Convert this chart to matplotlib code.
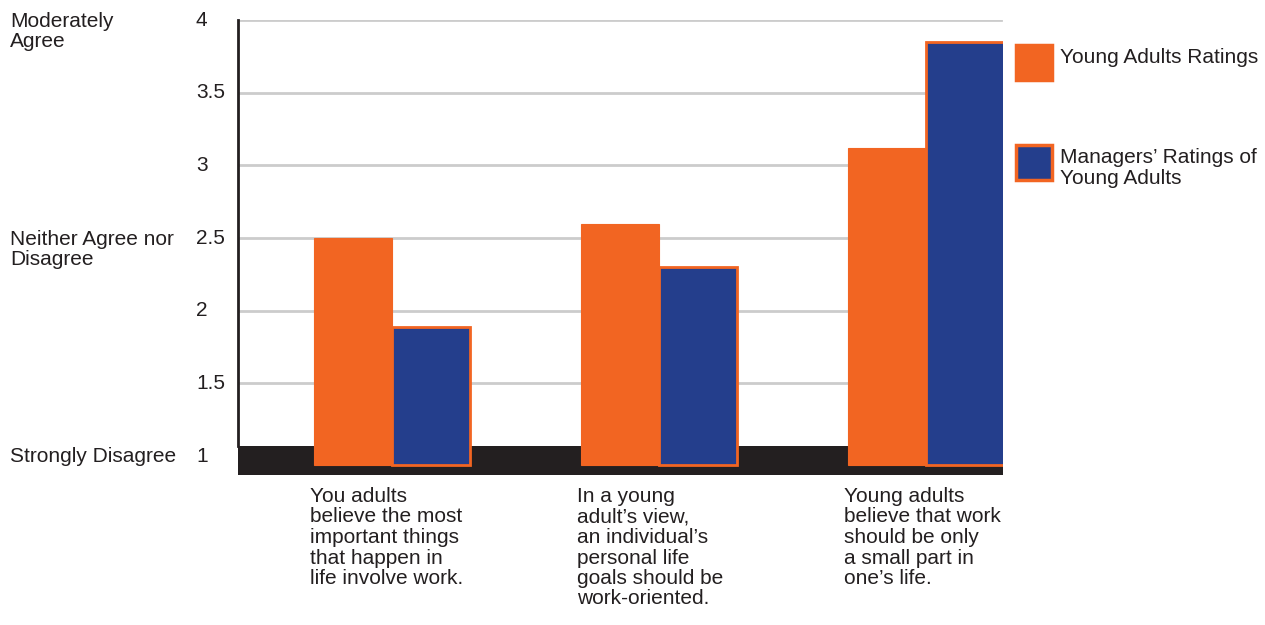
import numpy as np
import matplotlib.pyplot as plt
from matplotlib.patches import Rectangle
from matplotlib.transforms import blended_transform_factory

plt.rcParams["font.family"] = ["Liberation Sans", "DejaVu Sans"]

statements = [
    "You adults\nbelieve the most\nimportant things\nthat happen in\nlife involve work.",
    "In a young\nadult\u2019s view,\nan individual\u2019s\npersonal life\ngoals should be\nwork-oriented.",
    "Young adults\nbelieve that work\nshould be only\na small part in\none\u2019s life.",
]
young_adults = [2.5, 2.6, 3.12]
managers = [1.89, 2.3, 3.85]
yticks = [1, 1.5, 2, 2.5, 3, 3.5, 4]
scale_labels = {4: "Moderately\nAgree", 2.5: "Neither Agree nor\nDisagree", 1: "Strongly Disagree"}
series_names = ["Young Adults Ratings", "Managers\u2019 Ratings of\nYoung Adults"]

ORANGE = "#f26522"
BLUE = "#243e8c"
BAND = "#231f20"
FS = 15
LS = 1.1

W, H = 1265, 625
fig = plt.figure(figsize=(W / 100, H / 100), dpi=100)
ax = fig.add_axes([238 / W, 1 - 475 / H, (1003 - 238) / W, (475 - 20) / H])

ymin, ymax = 0.87, 4.0
bar_base = 0.94
w = 0.292
x = np.arange(len(statements))

ax.set_xlim(-0.577, 2.288)
ax.set_ylim(ymin, ymax)

# gridlines, dark floor band under the scale
for t in yticks[1:]:
    ax.axhline(t, xmin=0, xmax=0.997, color="#cccccc", lw=2, zorder=0)
ax.add_patch(Rectangle((-0.577, ymin), 2.865, 1.07 - ymin, color=BAND, zorder=1, lw=0))

ax.bar(x - w / 2, np.array(young_adults) - bar_base, w, bottom=bar_base,
       color=ORANGE, edgecolor=ORANGE, lw=0.8, zorder=2)
ax.bar(x + w / 2, np.array(managers) - bar_base, w, bottom=bar_base,
       color=BLUE, edgecolor=ORANGE, lw=2, zorder=2)

for s in ["top", "right", "bottom"]:
    ax.spines[s].set_visible(False)
ax.spines["left"].set_linewidth(2)
ax.spines["left"].set_color(BAND)
ax.spines["left"].set_bounds(1.07, ymax)
ax.set_xticks([])
ax.set_yticks([])

# numeric scale and its verbal anchors
ytr = blended_transform_factory(fig.transFigure, ax.transData)
for t in yticks:
    ax.text(196 / W, t, f"{t:g}", transform=ytr,
            ha="left", va="center", fontsize=FS, color=BAND)
for t, lab in scale_labels.items():
    yy = 3.92 if t == 4 else (2.42 if t == 2.5 else t)
    ax.text(10 / W, yy, lab, transform=ytr, ha="left", va="center",
            fontsize=FS, color=BAND, linespacing=LS)

# statement labels under each pair of bars
xtr = blended_transform_factory(ax.transData, fig.transFigure)
for i, s in enumerate(statements):
    ax.text(i - w - 0.015, 1 - 487 / H, s, transform=xtr, ha="left", va="top",
            fontsize=FS, color=BAND, linespacing=LS)

# legend swatches
swatches = [(45, ORANGE, ORANGE), (145, BLUE, ORANGE)]
for (top, fc, ec), name in zip(swatches, series_names):
    fig.patches.append(Rectangle((1016 / W, 1 - (top + 35) / H), 36 / W, 35 / H,
                                 transform=fig.transFigure, fc=fc, ec=ec, lw=2.5))
    fig.text(1060 / W, 1 - (top + 3) / H, name, ha="left", va="top",
             fontsize=FS, color=BAND, linespacing=LS)

fig.savefig("out.png", dpi=100)
